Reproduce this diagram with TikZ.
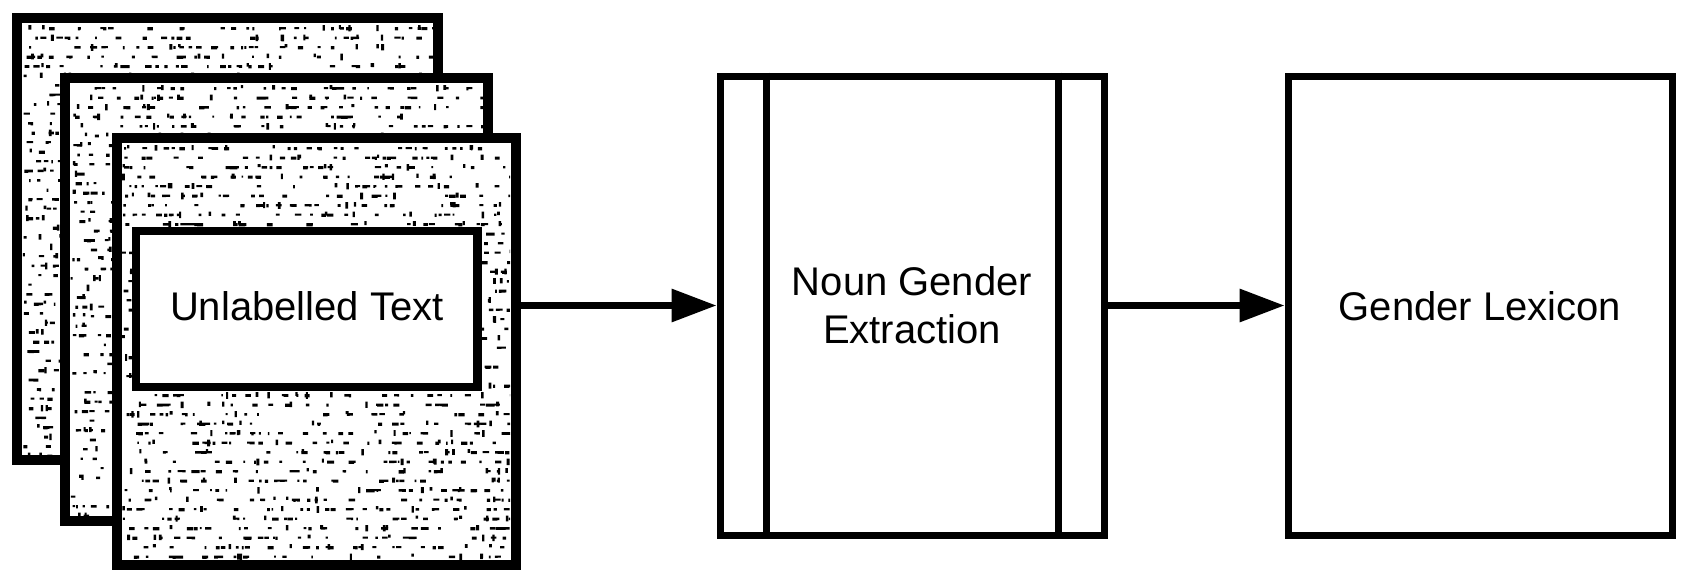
\documentclass[tikz,border=0pt]{standalone}
\usepackage{fontspec}
\setmainfont{Liberation Sans}
\usetikzlibrary{arrows.meta}
\newcommand\doctexture[4]{%
  \begin{scope}
    \clip (#1,#2) rectangle (#3,#4);
    \foreach \i in {0,...,48} {
      \fill foreach \j in {1,...,26} {({#1+rnd*(#3-#1)}, {#2+4+\i*9.5}) rectangle ++({1.5+rnd*5}, {2+rnd*1.5})};
      \fill foreach \j in {1,...,7} {({#1+rnd*(#3-#1)}, {#2+2+\i*9.5}) rectangle ++({2+rnd*1}, {3+rnd*4})};
    }
  \end{scope}}
\begin{document}
\begin{tikzpicture}[x=1pt,y=-1pt,
  docbox/.style={draw, fill=white, line width=10pt, inner sep=0pt},
  inbox/.style={draw, fill=white, line width=8.5pt, inner sep=0pt, minimum width=341.5pt, minimum height=156pt, text height=29pt, text depth=7pt},
  procbox/.style={draw, fill=white, line width=7pt, inner sep=0pt, minimum width=384pt, minimum height=459pt, align=center},
  arr/.style={line width=6.5pt, -{Triangle[length=45pt, width=32pt]}},
  font=\fontsize{40}{48}\selectfont]
\useasboundingbox (0,0) rectangle (1682,570);
\pgfmathsetseed{7}
% back document
\node[docbox, minimum width=421.5pt, minimum height=442.5pt] (d1) at (227.25,238.75) {};
\doctexture{22}{23}{433}{455}
% middle document
\node[docbox, minimum width=423.5pt, minimum height=443pt] (d2) at (276.25,299) {};
\doctexture{70}{83}{483}{515}
% front document
\node[docbox, minimum width=398.5pt, minimum height=427.5pt] (d3) at (316.25,351.25) {};
\doctexture{122}{143}{510}{560}
% inner label box
\node[inbox] (ut) at (306.75,309) {Unlabelled Text};
% process box
\node[procbox] (nge) at (912,305.5) {Noun Gender\\Extraction};
\draw[line width=7pt] ([xshift=50pt]nge.north west) -- ([xshift=50pt]nge.south west);
\draw[line width=7pt] ([xshift=-49pt]nge.north east) -- ([xshift=-49pt]nge.south east);
% output box
\node[procbox, text height=29pt, text depth=0pt] (gl) at (1480,305.5) {Gender Lexicon};
% connectors
\draw[arr] (d3.east |- nge.west) -- (nge.west);
\draw[arr] (nge.east) -- (gl.west);
\end{tikzpicture}
\end{document}
